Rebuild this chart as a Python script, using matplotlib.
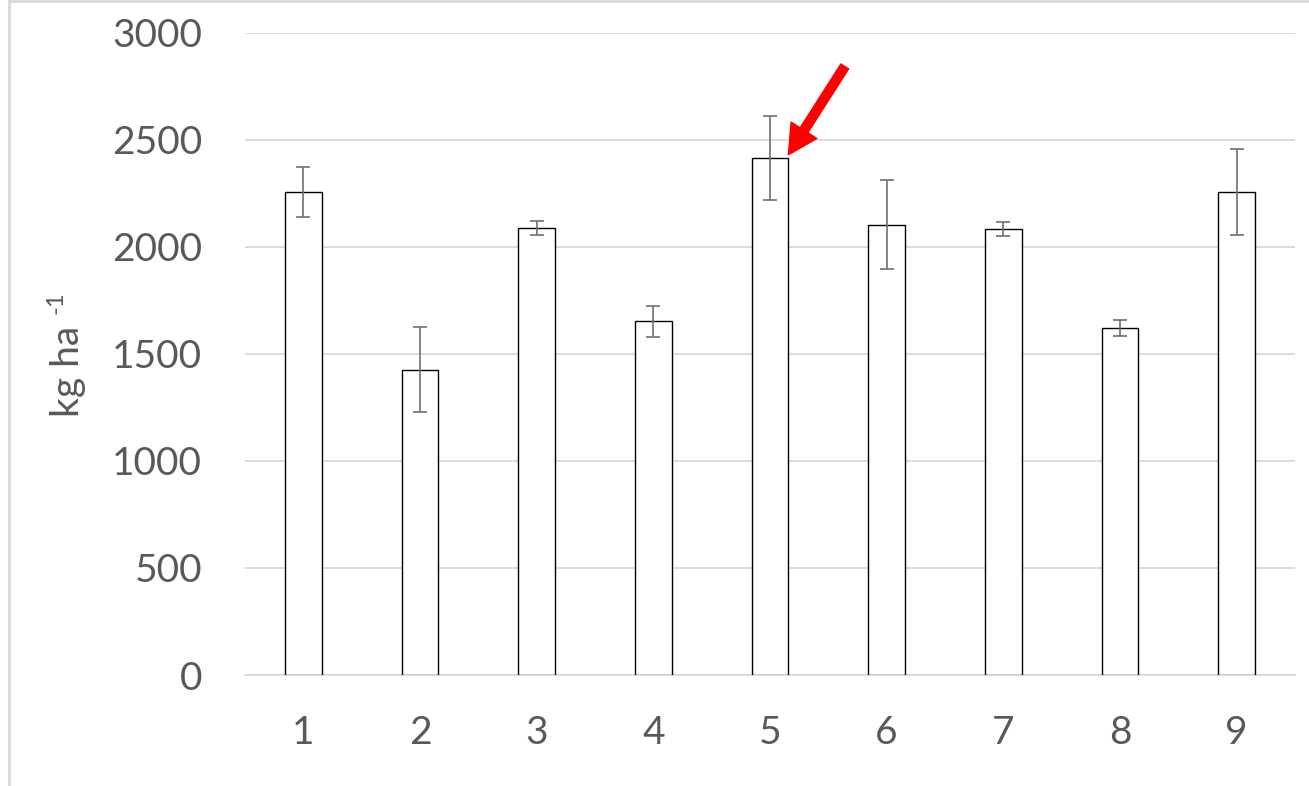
import matplotlib
matplotlib.use('Agg')
import matplotlib.pyplot as plt
from matplotlib.patches import Rectangle

# data
labels = ['1', '2', '3', '4', '5', '6', '7', '8', '9']
means = [2258, 1427, 2089, 1652, 2416, 2104, 2085, 1621, 2258]
errs = [118, 200, 33, 72, 197, 208, 33, 39, 200]
y_ticks = [0, 500, 1000, 1500, 2000, 2500, 3000]

plt.rcParams['font.family'] = ['Lato', 'DejaVu Sans']

W, H = 1309, 786
fig = plt.figure(figsize=(W / 100, H / 100), dpi=100)
ax = fig.add_axes([245 / W, 111 / H, 1050 / W, 642 / H])

x = range(len(labels))
w = 0.315
ax.bar(x, means, width=w, color='white', edgecolor='black', linewidth=1.0, zorder=3)
ax.errorbar(x, means, yerr=errs, fmt='none', ecolor='#707070', elinewidth=1.2,
            capsize=4.7, capthick=1.2, zorder=4)

ax.set_xlim(-0.5, len(labels) - 0.5)
ax.set_ylim(0, 3000)
ax.set_yticks(y_ticks)
ax.set_xticks(list(x))
ax.set_xticklabels(labels)
ax.grid(axis='y', color='#d9d9d9', linewidth=1.3, zorder=0)
for s in ['top', 'right', 'left']:
    ax.spines[s].set_visible(False)
ax.spines['bottom'].set_color('#d9d9d9')
ax.spines['bottom'].set_linewidth(1.3)
ax.tick_params(length=0, labelsize=28, labelcolor='#595959')
ax.tick_params(axis='y', pad=31)
ax.tick_params(axis='x', pad=29)

# y label with a plain hyphen superscript, as in the original
fig.text(67.5 / W, (H - 371) / H, 'kg ha', rotation=90, ha='center', va='center',
         fontsize=28, color='#595959')
fig.text(56 / W, (H - 303) / H, '-1', rotation=90, ha='center', va='center',
         fontsize=17, color='#595959')

# red arrow pointing at bar 5
ax.annotate('', xy=(4 + w / 2, means[4] + 15), xytext=(40.6, 63.6),
            textcoords='offset points',
            arrowprops=dict(arrowstyle='simple,head_length=0.95,head_width=1.0,tail_width=0.3',
                            mutation_scale=22, color='red', shrinkA=0, shrinkB=0),
            zorder=5)

# chart border
fig.patches.append(Rectangle((8.5 / W, -0.01), 1.1, 1.01 - 0.5 / H, transform=fig.transFigure,
                             fill=False, edgecolor='#d9d9d9', linewidth=2))

fig.savefig('out.png', dpi=100)
